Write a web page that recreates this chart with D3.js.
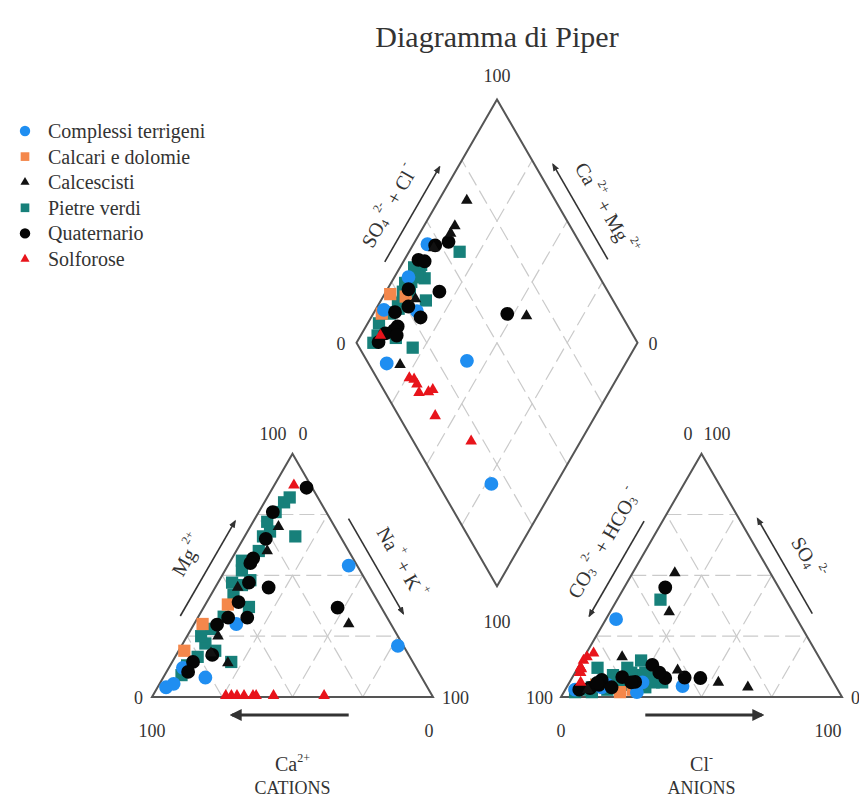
<!DOCTYPE html>
<html>
<head>
<meta charset="utf-8">
<script src="https://cdn.jsdelivr.net/npm/d3@7"></script>
<style>
  body { margin: 0; background: #fff; }
  svg { display: block; }
  text { font-family: "Liberation Serif", "Times New Roman", serif; fill: #333; }
</style>
</head>
<body>
<div id="chart"></div>
<script>
// each sample: [Mg, Na+K, SO4, Cl] in % meq/l (Ca and HCO3 are the remainders)
const terrigeni = [
  [8, 15, 3, 3.5], [54, 43, 32, 3.6], [21, 77, 5, 14], [5.4, 5, 4.5, 41],
  [4, 3, 4, 12.5], [12, 5, 6, 26], [30, 15, 2, 26]
];
const calcari = [[38, 8, 3, 24], [30, 3, 5, 10], [19, 2, 2, 20]];
const calcescisti = [
  [30, 55, 51, 15], [70, 10, 4, 64.5], [60, 11, 6, 53], [45, 8, 11, 36],
  [25, 11, 35, 21], [18, 12, 16.5, 13.5], [14, 20, 3, 8]
];
const pietreVerdi = [
  [66, 18, 40, 15.4], [14.4, 21, 12, 7], [37, 16, 9, 24.4], [80, 7, 6, 33],
  [72, 5, 12, 17.6], [66, 6.5, 9, 14], [68, 8, 6, 16], [47, 5, 5, 12.5],
  [46, 9, 4, 9], [48, 11, 8, 29.5], [33, 9, 15, 21], [28, 7, 4, 28],
  [22, 8, 8, 21], [19, 13, 5, 10], [13, 6, 3, 6], [9, 6, 2, 4],
  [16.5, 8, 6, 20], [82, 8, 10, 25], [60, 8, 7, 18], [52, 6, 3, 15],
  [42, 8, 10, 20], [25, 5, 6, 30], [76, 6, 5, 22], [56, 4, 2, 10]
];
const quaternario = [
  [36.7, 47.7, 45, 14.6], [86, 12, 7.8, 45.7], [76, 5, 13.2, 25.9], [57, 7.5, 7.8, 33.2],
  [55, 7.5, 6.2, 23.3], [47, 11, 8.2, 17.7], [45, 19, 10, 30], [39, 11.3, 7, 11],
  [32.6, 10.8, 5, 11], [32.6, 17.6, 6, 22], [29.7, 8.3, 3.7, 8.5], [17.3, 12.8, 5.8, 10],
  [14.4, 7.4, 4, 16], [10.3, 7.7, 3, 5], [65, 8, 8, 40]
];
const solforose = [
  [0.5, 26, 10, 1.6], [0.5, 28, 12, 1], [0.5, 30, 11.5, 1.5], [0.5, 32.5, 10, 2],
  [0.5, 35.7, 15, 0.5], [0.5, 36.8, 16.5, 1], [0.5, 43, 12, 1], [0.5, 61, 18, 2.6],
  [87, 7, 6, 4]
];

const groupNames = ["Complessi terrigeni", "Calcari e dolomie", "Calcescisti", "Pietre verdi", "Quaternario", "Solforose"];
const groupData = [terrigeni, calcari, calcescisti, pietreVerdi, quaternario, solforose];
const groupColors = ["#1f8ef1", "#f4874b", "#111111", "#17807a", "#050505", "#e8141b"];
const groupShapes = ["circle", "square", "triangle", "square", "circle", "triangle"];
const drawOrder = [3, 1, 0, 4, 2, 5];
const gridSteps = [25, 50, 75];

const width = 859, height = 798;
const side = 281;
const sin60 = Math.sqrt(3) / 2;
const baseY = 697;
const catX = 152;
const gap = 128;
const anX = catX + side + gap;
const dBottom = [catX + side + gap / 2, baseY - (gap / 2) * Math.sqrt(3)];

const pct = d3.scaleLinear().domain([0, 100]).range([0, side]);

// a = component at apex, b = component at right corner
const triPos = (ox) => (a, b) => [ox + pct(b) + pct(a) / 2, baseY - pct(a) * sin60];
const catPos = triPos(catX);
const anPos = triPos(anX);
// c = Ca+Mg, s = SO4+Cl
const diaPos = (c, s) => [dBottom[0] + (pct(s) - pct(c)) / 2, dBottom[1] - (pct(c) + pct(s)) * sin60];

const svg = d3.select("#chart").append("svg").attr("width", width).attr("height", height);

const defs = svg.append("defs");
defs.append("marker").attr("id", "headS").attr("viewBox", "0 0 10 10").attr("refX", 8).attr("refY", 5)
  .attr("markerWidth", 5).attr("markerHeight", 5).attr("orient", "auto")
  .append("path").attr("d", "M0,1L10,5L0,9Z").attr("fill", "#333");
defs.append("marker").attr("id", "headB").attr("viewBox", "0 0 10 10").attr("refX", 8).attr("refY", 5)
  .attr("markerWidth", 4).attr("markerHeight", 4).attr("orient", "auto")
  .append("path").attr("d", "M0,0L10,5L0,10Z").attr("fill", "#333");

svg.append("text").attr("x", dBottom[0]).attr("y", 47).attr("text-anchor", "middle")
  .attr("font-size", 30).text("Diagramma di Piper");

// grid
const grid = svg.append("g").attr("fill", "none").attr("stroke", "#cacaca")
  .attr("stroke-width", 1.2).attr("stroke-dasharray", "15,6");
const seg = (p, q) => grid.append("line").attr("x1", p[0]).attr("y1", p[1]).attr("x2", q[0]).attr("y2", q[1]);
[catPos, anPos].forEach((f) => {
  gridSteps.forEach((k) => {
    seg(f(k, 0), f(k, 100 - k));
    seg(f(0, k), f(100 - k, k));
    seg(f(0, 100 - k), f(100 - k, 0));
  });
});
gridSteps.forEach((k) => {
  seg(diaPos(k, 0), diaPos(k, 100));
  seg(diaPos(0, k), diaPos(100, k));
});

// outlines
const outline = svg.append("g").attr("fill", "none").attr("stroke", "#555").attr("stroke-width", 2)
  .attr("stroke-linejoin", "miter");
const line = d3.line();
[catPos, anPos].forEach((f) => {
  outline.append("path").attr("d", line([f(0, 0), f(100, 0), f(0, 100)]) + "Z");
});
outline.append("path").attr("d", line([diaPos(0, 0), diaPos(100, 0), diaPos(100, 100), diaPos(0, 100)]) + "Z");

// rich text helper
function rich(sel, parts, size) {
  let shift = 0;
  parts.forEach(([t, k]) => {
    const target = k === "sup" ? -size * 0.45 : k === "sub" ? size * 0.25 : 0;
    sel.append("tspan").attr("dy", target - shift).attr("font-size", k === "n" ? size : size * 0.6).text(t);
    shift = target;
  });
}

function along(p0, p1, t, off) {
  const dx = p1[0] - p0[0], dy = p1[1] - p0[1];
  const len = Math.hypot(dx, dy);
  const ux = dx / len, uy = dy / len;
  return [p0[0] + dx * t + uy * off, p0[1] + dy * t - ux * off];
}

function edgeLabel(p0, p1, t0, t1, parts, angle, tMid) {
  const a = along(p0, p1, t0, 16), b = along(p0, p1, t1, 16);
  svg.append("line").attr("x1", a[0]).attr("y1", a[1]).attr("x2", b[0]).attr("y2", b[1])
    .attr("stroke", "#333").attr("stroke-width", 1.6).attr("marker-end", "url(#headS)");
  const c = along(p0, p1, tMid, 40);
  const txt = svg.append("text").attr("text-anchor", "middle").attr("dominant-baseline", "central")
    .attr("transform", `translate(${c[0]},${c[1]}) rotate(${angle})`);
  rich(txt, parts, 20);
}

// cation triangle side labels
edgeLabel(catPos(0, 0), catPos(100, 0), 0.30, 0.69, [["Mg", "n"], [" 2+", "sup"]], -60, 0.5);
edgeLabel(catPos(100, 0), catPos(0, 100), 0.30, 0.69, [["Na", "n"], [" +", "sup"], [" + K", "n"], [" +", "sup"]], 60, 0.53);
// anion triangle side labels
edgeLabel(anPos(0, 0), anPos(100, 0), 0.69, 0.30,
  [["CO", "n"], ["3", "sub"], [" 2-", "sup"], [" + HCO", "n"], ["3", "sub"], [" -", "sup"]], -60, 0.55);
edgeLabel(anPos(100, 0), anPos(0, 100), 0.69, 0.30, [["SO", "n"], ["4", "sub"], [" 2-", "sup"]], 60, 0.51);
// diamond side labels
edgeLabel(diaPos(100, 0), diaPos(100, 100), 0.30, 0.69,
  [["SO", "n"], ["4", "sub"], [" 2-", "sup"], [" + Cl", "n"], [" -", "sup"]], -60, 0.48);
edgeLabel(diaPos(100, 100), diaPos(0, 100), 0.69, 0.30,
  [["Ca", "n"], [" 2+", "sup"], [" + Mg", "n"], [" 2+", "sup"]], 60, 0.53);

// bottom arrows
function bottomArrow(f, b0, b1) {
  const a = f(0, b0), b = f(0, b1);
  svg.append("line").attr("x1", a[0]).attr("y1", a[1] + 18).attr("x2", b[0]).attr("y2", b[1] + 18)
    .attr("stroke", "#333").attr("stroke-width", 3).attr("marker-end", "url(#headB)");
}
bottomArrow(catPos, 70, 28.5);
bottomArrow(anPos, 30, 71.5);

// tick labels
const ticks = svg.append("g").attr("font-size", 18);
function tick(p, dx, dy, anchor, label) {
  ticks.append("text").attr("x", p[0] + dx).attr("y", p[1] + dy).attr("text-anchor", anchor).text(label);
}
tick(catPos(100, 0), -6, -14, "end", "100");
tick(catPos(100, 0), 6, -14, "start", "0");
tick(catPos(0, 0), -9, 7, "end", "0");
tick(catPos(0, 100), 9, 7, "start", "100");
tick(catPos(0, 0), 0, 40, "middle", "100");
tick(catPos(0, 100), -4, 40, "middle", "0");
tick(anPos(100, 0), -9, -14, "end", "0");
tick(anPos(100, 0), 2, -14, "start", "100");
tick(anPos(0, 0), -8, 7, "end", "100");
tick(anPos(0, 100), 9, 7, "start", "0");
tick(anPos(0, 0), 0, 40, "middle", "0");
tick(anPos(0, 100), -14, 40, "middle", "100");
tick(diaPos(100, 100), 0, -17, "middle", "100");
tick(diaPos(100, 0), -11, 7, "end", "0");
tick(diaPos(0, 100), 11, 7, "start", "0");
tick(diaPos(0, 0), 0, 42, "middle", "100");

// bottom titles
const catMid = catPos(0, 50)[0], anMid = anPos(0, 50)[0];
rich(svg.append("text").attr("x", catMid).attr("y", 771).attr("text-anchor", "middle"), [["Ca", "n"], ["2+", "sup"]], 20);
svg.append("text").attr("x", catMid).attr("y", 794).attr("text-anchor", "middle").attr("font-size", 18).text("CATIONS");
rich(svg.append("text").attr("x", anMid).attr("y", 771).attr("text-anchor", "middle"), [["Cl", "n"], ["-", "sup"]], 20);
svg.append("text").attr("x", anMid).attr("y", 794).attr("text-anchor", "middle").attr("font-size", 18).text("ANIONS");

// points
const symbolType = { circle: d3.symbolCircle, square: d3.symbolSquare, triangle: d3.symbolTriangle };
const symbolSize = { circle: 150, square: 150, triangle: 58 };
const pts = svg.append("g");
drawOrder.forEach((gi) => {
  const shape = groupShapes[gi];
  const path = d3.symbol().type(symbolType[shape]).size(symbolSize[shape])();
  const rows = groupData[gi].flatMap(([mg, na, so4, cl]) => [
    catPos(mg, na), anPos(so4, cl), diaPos(100 - na, so4 + cl)
  ]);
  pts.append("g").selectAll("path").data(rows).join("path")
    .attr("d", path).attr("fill", groupColors[gi])
    .attr("transform", (d) => `translate(${d[0]},${d[1]})`);
});

// legend
const legendY = d3.scaleLinear().domain([0, 5]).range([131, 259]);
const legend = svg.append("g");
groupNames.forEach((name, i) => {
  const shape = groupShapes[i];
  const size = { circle: 85, square: 75, triangle: 36 }[shape];
  legend.append("path").attr("d", d3.symbol().type(symbolType[shape]).size(size)())
    .attr("fill", groupColors[i]).attr("transform", `translate(25,${legendY(i)})`);
  legend.append("text").attr("x", 48).attr("y", legendY(i)).attr("dominant-baseline", "central")
    .attr("font-size", 20).text(name);
});
</script>
</body>
</html>
